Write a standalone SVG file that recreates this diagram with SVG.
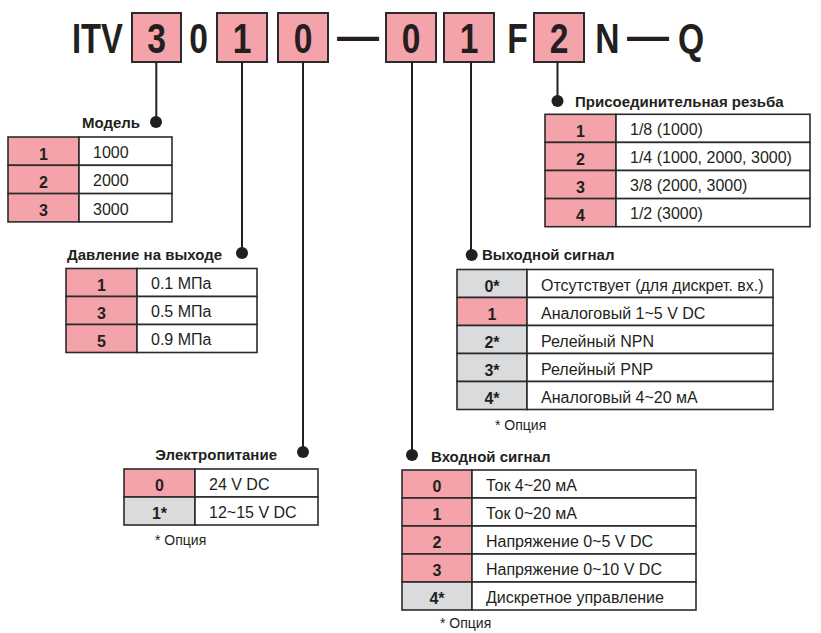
<svg xmlns="http://www.w3.org/2000/svg" width="821" height="633" viewBox="0 0 821 633">
<style>
text{font-family:"Liberation Sans",Arial,sans-serif;fill:#231f20}
.hd{font-size:42px;font-weight:bold;text-anchor:middle}
.lb{font-size:15px;font-weight:bold}
.cd{font-size:16px;font-weight:bold;text-anchor:middle}
.vl{font-size:16px}
.nt{font-size:14px}
.bx{fill:#f4a3aa;stroke:#2b2b2b;stroke-width:2}
.pk{fill:#f4a3aa;stroke:#2b2b2b;stroke-width:1.6}
.gy{fill:#dadbdd;stroke:#2b2b2b;stroke-width:1.6}
.wh{fill:#fff;stroke:#2b2b2b;stroke-width:1.6}
.ln{stroke:#231f20;stroke-width:2;fill:none}
.dt{fill:#231f20}
</style>
<rect width="821" height="633" fill="#fff"/>
<g id="code">
<text class="hd" transform="translate(97.5 53) scale(0.78 1)">ITV</text>
<rect class="bx" x="132" y="13" width="49" height="49"/>
<text class="hd" transform="translate(156.5 53) scale(0.8 1)">3</text>
<text class="hd" transform="translate(198.5 53) scale(0.8 1)">0</text>
<rect class="bx" x="217" y="13" width="50" height="49"/>
<text class="hd" transform="translate(242 53) scale(0.8 1)">1</text>
<rect class="bx" x="278" y="13" width="50" height="49"/>
<text class="hd" transform="translate(303 53) scale(0.8 1)">0</text>
<text class="hd" transform="translate(358 50)">—</text>
<rect class="bx" x="386" y="13" width="50" height="49"/>
<text class="hd" transform="translate(411 53) scale(0.8 1)">0</text>
<rect class="bx" x="444" y="13" width="50" height="49"/>
<text class="hd" transform="translate(469 53) scale(0.8 1)">1</text>
<text class="hd" transform="translate(517.5 53) scale(0.8 1)">F</text>
<rect class="bx" x="534" y="13" width="50" height="49"/>
<text class="hd" transform="translate(559 53) scale(0.8 1)">2</text>
<text class="hd" transform="translate(607.5 53) scale(0.8 1)">N</text>
<text class="hd" transform="translate(648 50)">—</text>
<text class="hd" transform="translate(691 53) scale(0.8 1)">Q</text>
</g>
<g id="connectors">
<line class="ln" x1="156.3" y1="62" x2="156.3" y2="122"/>
<circle class="dt" cx="156" cy="122" r="6"/>
<line class="ln" x1="242" y1="62" x2="242" y2="253"/>
<circle class="dt" cx="242" cy="253" r="6"/>
<line class="ln" x1="303" y1="62" x2="303" y2="452"/>
<circle class="dt" cx="303" cy="452" r="6"/>
<line class="ln" x1="412" y1="62" x2="412" y2="455"/>
<circle class="dt" cx="412" cy="455" r="6"/>
<line class="ln" x1="471" y1="62" x2="471" y2="255"/>
<circle class="dt" cx="471.7" cy="255" r="6"/>
<line class="ln" x1="557.5" y1="62" x2="557.5" y2="101"/>
<circle class="dt" cx="557.5" cy="101" r="6"/>
</g>
<g id="model">
<text class="lb" x="140" y="128" text-anchor="end">Модель</text>
<rect class="pk" x="8" y="137" width="71" height="28.3"/><rect class="wh" x="79" y="137" width="93" height="28.3"/>
<rect class="pk" x="8" y="165.3" width="71" height="28.3"/><rect class="wh" x="79" y="165.3" width="93" height="28.3"/>
<rect class="pk" x="8" y="193.6" width="71" height="28.3"/><rect class="wh" x="79" y="193.6" width="93" height="28.3"/>
<text class="cd" x="43.5" y="159.5">1</text><text class="vl" x="93" y="158">1000</text>
<text class="cd" x="43.5" y="187.8">2</text><text class="vl" x="93" y="186.3">2000</text>
<text class="cd" x="43.5" y="216.1">3</text><text class="vl" x="93" y="214.6">3000</text>
</g>
<g id="pressure">
<text class="lb" x="222" y="260" text-anchor="end">Давление на выходе</text>
<rect class="pk" x="66" y="268.5" width="71" height="28"/><rect class="wh" x="137" y="268.5" width="120" height="28"/>
<rect class="pk" x="66" y="296.5" width="71" height="28"/><rect class="wh" x="137" y="296.5" width="120" height="28"/>
<rect class="pk" x="66" y="324.5" width="71" height="28"/><rect class="wh" x="137" y="324.5" width="120" height="28"/>
<text class="cd" x="101.5" y="290.5">1</text><text class="vl" x="151" y="289">0.1 МПа</text>
<text class="cd" x="101.5" y="318.5">3</text><text class="vl" x="151" y="317">0.5 МПа</text>
<text class="cd" x="101.5" y="346.5">5</text><text class="vl" x="151" y="345">0.9 МПа</text>
</g>
<g id="power">
<text class="lb" x="277" y="460" text-anchor="end">Электропитание</text>
<rect class="pk" x="124" y="469" width="71" height="28"/><rect class="wh" x="195" y="469" width="123" height="28"/>
<rect class="gy" x="124" y="497" width="71" height="28"/><rect class="wh" x="195" y="497" width="123" height="28"/>
<text class="cd" x="159.5" y="491">0</text><text class="vl" x="209" y="490">24 V DC</text>
<text class="cd" x="159.5" y="519">1*</text><text class="vl" x="209" y="518">12~15 V DC</text>
<text class="nt" x="155" y="545">* Опция</text>
</g>
<g id="input">
<text class="lb" x="431" y="462">Входной сигнал</text>
<rect class="pk" x="402" y="470" width="70" height="28"/><rect class="wh" x="472" y="470" width="224" height="28"/>
<rect class="pk" x="402" y="498" width="70" height="28"/><rect class="wh" x="472" y="498" width="224" height="28"/>
<rect class="pk" x="402" y="526" width="70" height="28"/><rect class="wh" x="472" y="526" width="224" height="28"/>
<rect class="pk" x="402" y="554" width="70" height="28"/><rect class="wh" x="472" y="554" width="224" height="28"/>
<rect class="gy" x="402" y="582" width="70" height="28"/><rect class="wh" x="472" y="582" width="224" height="28"/>
<text class="cd" x="437" y="492">0</text><text class="vl" x="486" y="491">Ток 4~20 мА</text>
<text class="cd" x="437" y="520">1</text><text class="vl" x="486" y="519">Ток 0~20 мА</text>
<text class="cd" x="437" y="548">2</text><text class="vl" x="486" y="547">Напряжение 0~5 V DC</text>
<text class="cd" x="437" y="576">3</text><text class="vl" x="486" y="575">Напряжение 0~10 V DC</text>
<text class="cd" x="437" y="604">4*</text><text class="vl" x="486" y="603">Дискретное управление</text>
<text class="nt" x="440" y="628">* Опция</text>
</g>
<g id="output">
<text class="lb" x="482" y="259.5">Выходной сигнал</text>
<rect class="gy" x="457" y="269.5" width="70" height="28"/><rect class="wh" x="527" y="269.5" width="246" height="28"/>
<rect class="pk" x="457" y="297.5" width="70" height="28"/><rect class="wh" x="527" y="297.5" width="246" height="28"/>
<rect class="gy" x="457" y="325.5" width="70" height="28"/><rect class="wh" x="527" y="325.5" width="246" height="28"/>
<rect class="gy" x="457" y="353.5" width="70" height="28"/><rect class="wh" x="527" y="353.5" width="246" height="28"/>
<rect class="gy" x="457" y="381.5" width="70" height="28"/><rect class="wh" x="527" y="381.5" width="246" height="28"/>
<text class="cd" x="492" y="291.5">0*</text><text class="vl" x="541" y="290.5">Отсутствует (для дискрет. вх.)</text>
<text class="cd" x="492" y="319.5">1</text><text class="vl" x="541" y="318.5">Аналоговый 1~5 V DC</text>
<text class="cd" x="492" y="347.5">2*</text><text class="vl" x="541" y="346.5">Релейный NPN</text>
<text class="cd" x="492" y="375.5">3*</text><text class="vl" x="541" y="374.5">Релейный PNP</text>
<text class="cd" x="492" y="403.5">4*</text><text class="vl" x="541" y="402.5">Аналоговый 4~20 мА</text>
<text class="nt" x="495" y="430">* Опция</text>
</g>
<g id="thread">
<text class="lb" x="575" y="107">Присоединительная резьба</text>
<rect class="pk" x="545" y="114.3" width="71" height="28.1"/><rect class="wh" x="616" y="114.3" width="194" height="28.1"/>
<rect class="pk" x="545" y="142.4" width="71" height="28.1"/><rect class="wh" x="616" y="142.4" width="194" height="28.1"/>
<rect class="pk" x="545" y="170.5" width="71" height="28.1"/><rect class="wh" x="616" y="170.5" width="194" height="28.1"/>
<rect class="pk" x="545" y="198.6" width="71" height="28.1"/><rect class="wh" x="616" y="198.6" width="194" height="28.1"/>
<text class="cd" x="580.5" y="136.5">1</text><text class="vl" x="630" y="135">1/8 (1000)</text>
<text class="cd" x="580.5" y="164.6">2</text><text class="vl" x="630" y="163.1">1/4 (1000, 2000, 3000)</text>
<text class="cd" x="580.5" y="192.7">3</text><text class="vl" x="630" y="191.2">3/8 (2000, 3000)</text>
<text class="cd" x="580.5" y="220.8">4</text><text class="vl" x="630" y="219.3">1/2 (3000)</text>
</g>
</svg>
